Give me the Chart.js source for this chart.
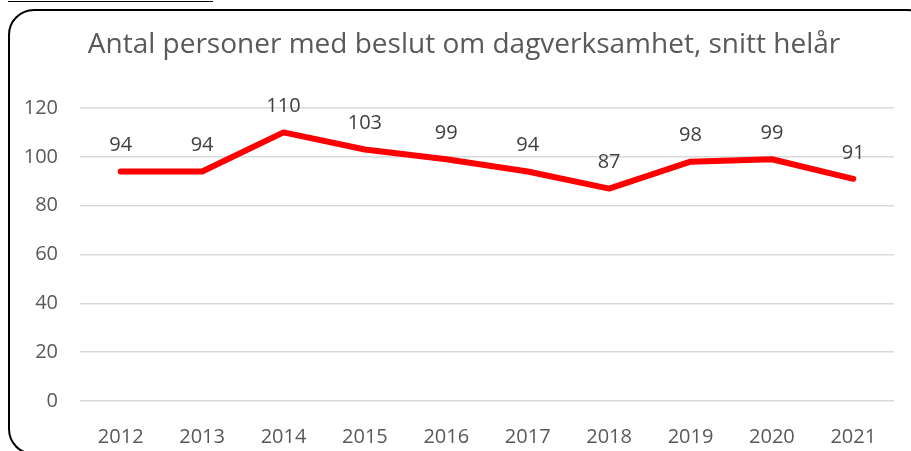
<!DOCTYPE html>
<html lang="sv">
<head>
  <meta charset="UTF-8">
  <title>Antal personer med beslut om dagverksamhet</title>
  <script src="https://cdn.jsdelivr.net/npm/chart.js"></script>
  <style>
    html, body { margin: 0; padding: 0; background: #fff; overflow: hidden; }
    #wrap { position: relative; width: 911px; height: 451px; overflow: hidden; }
    #topline { position: absolute; left: 8px; top: 1px; width: 205px; border-top: 1.5px solid #000; }
    #frame { position: absolute; left: 8px; top: 9px; width: 925px; height: 446px;
             border: 2px solid #000; border-radius: 26px; box-sizing: border-box; }
    #chartCanvas { position: absolute; left: 0; top: 0; }
  </style>
</head>
<body>
  <div id="wrap">
    <div id="topline"></div>
    <div id="frame"></div>
    <canvas id="chartCanvas" width="911" height="451"></canvas>
  </div>

  <script>
    const years = ['2012', '2013', '2014', '2015', '2016', '2017', '2018', '2019', '2020', '2021'];
    const persons = [94, 94, 110, 103, 99, 94, 87, 98, 99, 91];
    const chartTitle = 'Antal personer med beslut om dagverksamhet, snitt helår';

    const FONT = '"Open Sans", sans-serif';

    // title is centred on the whole frame, not just the canvas box
    const frameTitle = {
      id: 'frameTitle',
      afterDraw(chart) {
        const ctx = chart.ctx;
        ctx.save();
        ctx.font = '28px ' + FONT;
        ctx.fillStyle = '#595959';
        ctx.textAlign = 'center';
        ctx.textBaseline = 'middle';
        ctx.fillText(chartTitle, 464, 45);
        ctx.restore();
      }
    };

    // labels above each point, placed from the scales
    const valueLabels = {
      id: 'valueLabels',
      afterDatasetsDraw(chart) {
        const ctx = chart.ctx;
        const meta = chart.getDatasetMeta(0);
        ctx.save();
        ctx.font = '20px ' + FONT;
        ctx.fillStyle = '#404040';
        ctx.textAlign = 'center';
        ctx.textBaseline = 'middle';
        meta.data.forEach((pt, i) => {
          ctx.fillText(String(persons[i]), pt.x, pt.y - 26);
        });
        ctx.restore();
      }
    };

    new Chart(document.getElementById('chartCanvas').getContext('2d'), {
      type: 'line',
      data: {
        labels: years,
        datasets: [{
          data: persons,
          borderColor: '#ff0000',
          borderWidth: 6,
          borderCapStyle: 'round',
          borderJoinStyle: 'round',
          pointRadius: 0,
          fill: false,
          tension: 0
        }]
      },
      options: {
        responsive: false,
        animation: false,
        layout: { padding: { left: 0, right: 17, top: 108, bottom: 0 } },
        plugins: {
          legend: { display: false },
          tooltip: { enabled: false },
          title: { display: false }
        },
        scales: {
          x: {
            offset: true,
            grid: { display: false, drawTicks: false },
            border: { display: false },
            ticks: { color: '#595959', font: { family: FONT, size: 20 }, padding: 24, maxRotation: 0 },
            afterFit(axis) { axis.height = 50; }
          },
          y: {
            min: 0,
            max: 120,
            ticks: { stepSize: 20, color: '#595959', font: { family: FONT, size: 20 }, padding: 22 },
            grid: { color: '#d9d9d9', lineWidth: 1.5, drawTicks: false },
            border: { display: false },
            afterFit(axis) { axis.width = 80; }
          }
        }
      },
      plugins: [valueLabels, frameTitle]
    });
  </script>
</body>
</html>
